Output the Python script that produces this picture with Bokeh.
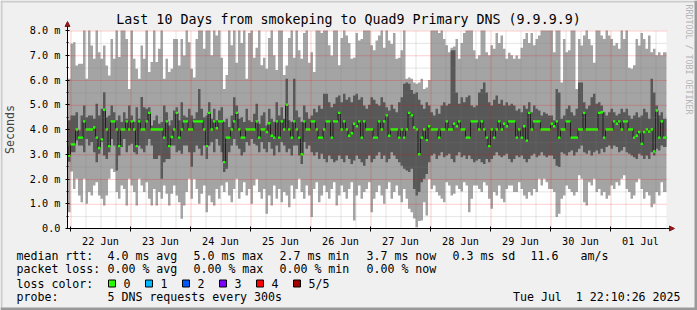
import numpy as np
from bokeh.plotting import figure
from bokeh.models import Range1d, FixedTicker, Arrow, NormalHead, ColumnDataSource
from bokeh.core.properties import value
from bokeh.embed import file_html
from bokeh.resources import INLINE

# ---------------- data (hourly bins, hours since 22 Jun 00:00) ----------------
FIRST_HOUR = -2
rtt_max = [
    6.05, 6.05, 7.46, 7.53, 6.59, 6.66, 6.66, 8.3, 6.05, 8.4, 7.39, 6.86, 8.4, 7.12, 6.86, 7.39, 6.59, 6.18, 7.66, 6.86,
    8.4, 6.93, 8.1, 8.0, 7.66, 5.64, 8.4, 6.86, 6.45, 6.05, 7.39, 6.86, 8.4, 6.32, 6.73, 8.0, 6.73, 7.26, 8.4, 6.05,
    6.86, 6.32, 6.45, 7.66, 7.66, 6.59, 7.66, 6.99, 8.4, 7.53,
    6.45, 6.1, 7.66, 8.4, 8.4, 7.26, 8.1, 8.4, 7.0, 8.4, 7.8, 8.4, 6.9, 5.64, 6.2, 8.4, 7.4, 8.4, 6.7, 8.4,
    7.5, 8.4, 6.05, 7.9, 8.4, 6.9, 7.3, 8.4, 6.6, 6.9, 6.45, 7.7, 8.4, 7.0, 6.4, 8.0, 8.4, 6.2, 6.59, 7.7,
    8.4, 6.9, 8.4, 7.2, 6.86, 7.9, 8.4, 6.7,
    7.12, 6.32, 8.4, 8.1, 7.9, 8.4, 8.4, 7.4, 6.99, 8.4, 8.4, 6.6, 7.7, 8.0, 7.8, 7.5, 6.86, 6.9, 7.9, 7.6,
    7.66, 8.0, 8.4, 8.4, 7.4, 7.2, 7.6, 7.8, 8.0, 7.3, 8.1, 7.6, 7.45, 7.9, 6.86, 6.9, 7.2, 8.3, 6.05, 6.1,
    6.05, 5.9, 5.85, 5.9, 6.05, 5.64, 5.7, 6.0,
    8.4, 8.1, 8.4, 7.9, 8.3, 7.66, 7.4, 7.12, 7.3, 7.35, 7.66, 6.86, 7.5, 7.9, 8.1, 8.4, 8.4, 7.2, 6.86, 7.0,
    8.4, 8.4, 7.12, 7.0, 7.4, 7.26, 7.9, 7.5, 7.8, 7.26, 6.86, 7.1, 7.0, 6.86, 6.99, 6.86, 7.3, 7.66, 7.9, 7.5,
    7.9, 7.4, 7.66, 7.8, 8.4, 8.4, 8.1, 8.4,
    8.0, 7.12, 8.2, 8.0, 5.9, 7.66, 7.12, 7.2, 8.4, 8.1, 5.64, 7.66, 7.39, 7.8, 8.0, 7.66, 7.4, 6.7, 8.4, 8.1,
    7.8, 7.66, 8.4, 7.8, 7.66, 7.39, 7.5, 7.26, 8.0, 7.66, 8.4, 6.5, 6.45, 6.6, 7.66, 7.39, 7.9, 7.66, 7.26, 7.8,
    7.12, 7.26, 7.0, 7.12, 7.0, 7.12,
]
rtt_p4 = [
    4.37, 4.37, 4.57, 4.57, 4.70, 3.96, 4.57, 4.97, 4.50, 4.57, 4.57, 4.43, 5.04, 4.57, 4.84, 5.51, 4.50, 4.57, 4.97, 4.70,
    4.37, 4.57, 4.30, 4.70, 4.43, 4.97, 4.57, 4.30, 4.90, 4.43, 5.31, 4.90, 4.84, 4.90, 4.16, 4.37, 4.57, 4.23, 4.30, 4.97,
    4.70, 4.16, 4.37, 4.77, 4.90, 4.37, 5.10, 4.57, 4.50, 4.84,
    4.57, 4.43, 4.7, 5.64, 4.84, 4.5, 4.57, 5.1, 4.43, 4.84, 4.37, 4.77, 4.9, 4.3, 4.43, 4.1, 4.57, 5.3, 4.97, 4.43,
    4.5, 4.3, 4.84, 4.37, 4.3, 4.64, 5.04, 4.23, 4.57, 4.7, 4.16, 4.84, 4.43, 4.3, 5.1, 4.57, 4.9, 4.43, 6.05, 4.37,
    4.3, 6.05, 4.77, 4.5, 4.3, 4.97, 4.7, 4.43,
    4.57, 4.84, 4.7, 4.97, 4.84, 5.44, 5.44, 5.1, 4.9, 5.04, 5.3, 5.37, 5.1, 5.44, 5.2, 5.3, 5.1, 5.37, 5.44, 5.2,
    5.3, 4.97, 4.84, 5.0, 5.3, 5.2, 5.04, 4.97, 5.3, 5.1, 4.9, 4.77, 5.0, 4.84, 4.7, 5.1, 5.3, 5.85, 5.9, 5.85,
    5.6, 5.44, 5.51, 5.2, 5.0, 4.84, 5.1, 4.97,
    4.7, 4.57, 4.84, 4.64, 4.97, 5.1, 4.97, 5.04, 7.2, 7.2, 5.5, 5.04, 5.3, 5.1, 5.3, 5.37, 4.97, 4.9, 4.97, 5.5,
    5.64, 5.9, 5.5, 5.1, 4.97, 5.2, 5.37, 5.04, 5.2, 4.97, 5.1, 4.97, 5.04, 4.97, 4.77, 4.84, 4.7, 4.97, 4.84, 5.1,
    4.7, 4.97, 4.84, 4.77, 4.57, 4.7, 4.64, 4.57,
    4.57, 4.37, 5.64, 5.5, 4.43, 4.57, 4.84, 4.97, 4.7, 4.57, 4.84, 5.9, 5.9, 5.1, 4.84, 4.97, 5.3, 5.44, 5.04, 5.1,
    4.97, 4.7, 4.57, 4.7, 4.84, 4.7, 4.57, 4.64, 4.84, 4.7, 4.84, 4.57, 4.43, 4.57, 4.7, 4.5, 4.57, 4.84, 4.7, 4.43,
    6.05, 5.5, 4.97, 4.57, 4.7, 4.43,
]
rtt_median = [
    3.33, 2.95, 3.4, 3.4, 4.0, 3.67, 3.67, 4.33, 4.0, 4.0, 4.0, 4.08, 3.67, 3.25, 3.6, 4.8, 4.0, 3.33, 4.33, 4.33,
    4.0, 3.33, 4.0, 4.0, 4.33, 4.0, 4.33, 4.0, 3.33, 4.33, 4.0, 4.0, 4.33, 4.67, 4.0, 4.0, 4.0, 4.0, 4.0, 3.67,
    4.33, 3.33, 3.7, 4.0, 4.67, 3.67, 4.0, 4.33, 4.33, 4.0,
    4.0, 4.33, 4.33, 4.33, 4.33, 4.0, 3.33, 4.67, 4.0, 4.33, 4.05, 4.33, 4.33, 2.68, 3.67, 3.67, 4.0, 4.33, 4.67, 4.0,
    3.67, 3.67, 4.0, 4.0, 4.0, 4.0, 4.33, 3.67, 4.0, 4.0, 3.9, 4.25, 3.75, 3.67, 4.33, 3.67, 4.33, 4.0, 5.0, 4.0,
    3.67, 4.33, 4.0, 3.67, 3.0, 4.33, 4.0, 4.0,
    4.33, 4.33, 4.0, 3.67, 3.67, 4.0, 4.33, 4.33, 3.67, 4.33, 4.33, 4.67, 4.0, 4.33, 4.0, 3.75, 3.85, 4.23, 4.13, 4.33,
    3.67, 4.33, 4.0, 4.0, 4.0, 3.67, 3.67, 4.33, 4.0, 4.33, 4.57, 3.75, 4.0, 4.0, 4.0, 3.67, 4.0, 3.67, 4.0, 4.67,
    4.57, 4.08, 4.0, 3.0, 3.67, 4.0, 3.57, 4.13,
    4.0, 4.0, 4.0, 3.67, 4.0, 4.0, 4.33, 4.0, 4.0, 4.23, 4.13, 4.33, 4.0, 4.0, 3.67, 3.67, 4.33, 4.33, 4.33, 4.0,
    4.33, 4.0, 3.67, 3.33, 4.0, 3.67, 4.0, 4.33, 4.0, 4.23, 4.13, 4.33, 4.33, 4.33, 3.67, 4.0, 3.67, 4.13, 3.55, 4.67,
    4.0, 4.33, 4.33, 4.33, 4.0, 4.0, 4.0, 4.0,
    4.23, 4.13, 4.33, 3.67, 4.0, 4.0, 4.33, 4.33, 3.67, 3.67, 3.67, 4.0, 4.0, 4.67, 4.0, 4.0, 4.0, 4.0, 4.0, 4.67,
    4.7, 3.67, 4.0, 4.0, 4.0, 4.33, 4.23, 4.33, 4.0, 4.33, 4.33, 4.0, 4.0, 3.67, 3.75, 3.9, 3.42, 3.9, 4.0, 3.92,
    4.0, 3.11, 4.77, 3.67, 4.33, 3.67,
]
rtt_p2 = [
    2.61, 2.70, 3.08, 3.08, 3.56, 3.35, 3.35, 3.08, 3.62, 3.35, 3.49, 3.08, 2.68, 3.02, 3.49, 2.95, 2.81, 3.08, 3.62, 3.35,
    2.34, 2.95, 3.29, 3.62, 3.08, 3.35, 3.42, 3.08, 3.00, 3.35, 3.22, 3.08, 3.35, 3.62, 3.35, 2.81, 2.81, 2.95, 2.01, 2.68,
    2.81, 2.81, 3.35, 3.35, 3.08, 3.15, 3.02, 3.35, 3.35, 3.08,
    2.5, 3.08, 3.35, 3.22, 2.95, 3.35, 2.81, 3.35, 3.49, 3.08, 3.62, 3.35, 3.08, 2.28, 2.41, 3.08, 3.35, 3.62, 3.35, 3.22,
    2.95, 3.08, 3.49, 3.35, 3.62, 3.42, 3.35, 3.08, 3.49, 3.22, 3.08, 3.49, 3.22, 2.95, 3.35, 3.08, 3.49, 3.35, 3.08, 3.22,
    2.95, 3.35, 3.35, 2.95, 2.61, 3.49, 3.22, 3.35,
    3.08, 2.95, 3.08, 2.81, 3.02, 2.81, 2.68, 2.95, 2.81, 2.68, 2.75, 2.95, 2.81, 2.68, 2.95, 2.81, 2.61, 2.75, 2.95, 2.81,
    2.68, 2.54, 2.81, 2.95, 2.68, 2.81, 2.95, 3.08, 2.81, 2.95, 2.68, 2.81, 3.08, 2.95, 2.81, 2.68, 2.54, 2.41, 2.34, 2.28,
    2.41, 1.6, 1.33, 1.47, 1.87, 2.01, 2.2, 2.68,
    2.95, 3.02, 2.81, 2.95, 3.08, 2.88, 2.95, 3.02, 2.81, 2.68, 2.95, 3.08, 2.88, 2.95, 2.81, 2.95, 2.81, 2.68, 2.75, 2.81,
    2.68, 2.61, 2.81, 2.68, 2.81, 2.95, 3.08, 2.95, 2.88, 2.95, 3.02, 2.81, 2.68, 2.81, 2.95, 2.88, 2.95, 2.81, 2.68, 2.81,
    2.95, 3.02, 2.88, 2.95, 3.08, 2.95, 2.88, 2.95,
    2.95, 2.81, 2.54, 2.48, 3.08, 3.02, 2.95, 3.08, 3.15, 2.95, 3.08, 3.22, 3.35, 3.08, 3.02, 3.15, 2.95, 3.08, 3.15, 3.02,
    3.22, 3.08, 3.29, 3.35, 3.22, 3.35, 3.29, 3.08, 3.15, 3.29, 3.08, 3.02, 2.95, 2.88, 2.81, 3.02, 2.95, 2.81, 2.95, 2.81,
    3.08, 2.95, 3.22, 3.15, 3.35, 3.29,
]
rtt_min = [
    1.33, 0.66, 2.30, 1.60, 2.01, 1.33, 1.06, 2.01, 1.00, 1.47, 1.33, 1.74, 1.87, 1.33, 1.20, 0.93, 1.33, 2.01, 2.41, 2.28,
    1.47, 1.20, 1.74, 1.60, 0.93, 2.01, 1.74, 1.47, 0.93, 2.01, 1.74, 1.47, 1.87, 1.20, 0.93, 1.60, 0.93, 1.47, 1.20, 1.74,
    1.40, 0.93, 1.40, 1.74, 1.33, 1.06, 0.39, 0.93, 1.47, 2.01,
    1.2, 2.0, 1.6, 1.0, 1.4, 1.74, 0.66, 1.33, 1.06, 0.93, 1.6, 1.2, 1.74, 1.47, 1.87, 1.33, 1.06, 1.6, 2.01, 1.2,
    1.47, 1.87, 1.33, 1.6, 1.0, 1.74, 2.0, 1.47, 1.2, 1.6, 0.6, 1.33, 0.93, 1.74, 1.2, 1.6, 1.06, 1.47, 1.33, 0.86,
    1.74, 1.2, 1.6, 2.01, 1.47, 1.2, 1.74, 1.33,
    0.46, 1.6, 1.87, 1.06, 1.33, 1.74, 1.47, 1.2, 1.6, 1.87, 0.93, 1.33, 1.74, 1.47, 1.2, 1.6, 1.87, 0.32, 1.33, 1.74,
    1.2, 1.47, 1.6, 1.87, 0.66, 1.2, 1.47, 1.74, 1.33, 1.0, 1.6, 1.87, 1.2, 1.47, 1.74, 1.33, 1.06, 1.6, 1.2, 0.8,
    0.66, 0.4, 0.05, 0.3, 0.32, 1.06, 0.53, 2.0,
    1.6, 1.74, 1.47, 1.33, 1.2, 1.06, 1.87, 1.74, 1.33, 1.4, 1.74, 1.6, 1.5, 1.87, 1.74, 0.66, 1.2, 1.74, 1.74, 1.6,
    1.47, 1.87, 1.74, 1.2, 0.8, 1.47, 1.33, 1.74, 1.2, 1.06, 1.6, 1.74, 1.74, 1.47, 1.47, 1.87, 1.6, 1.33, 1.2, 1.47,
    1.33, 1.6, 1.47, 2.01, 1.74, 2.01, 1.87, 1.6,
    1.6, 1.47, 0.46, 0.6, 1.2, 1.33, 1.74, 1.6, 1.47, 1.33, 1.47, 2.15, 2.01, 1.06, 0.93, 1.87, 1.74, 2.01, 1.47, 1.6,
    1.33, 1.47, 1.2, 1.33, 1.74, 1.6, 1.87, 1.74, 2.01, 2.15, 1.6, 1.47, 1.2, 1.33, 1.87, 2.01, 1.6, 1.2, 1.47, 1.33,
    0.86, 1.0, 1.47, 1.33, 1.87, 1.47,
]

day_labels = ["22 Jun", "23 Jun", "24 Jun", "25 Jun", "26 Jun", "27 Jun", "28 Jun", "29 Jun", "30 Jun", "01 Jul"]
y_tick_labels = ["0.0", "1.0 m", "2.0 m", "3.0 m", "4.0 m", "5.0 m", "6.0 m", "7.0 m", "8.0 m"]
title_text = "Last 10 Days from smokeping to Quad9 Primary DNS (9.9.9.9)"
rtt_stats = ["4.0 ms avg", "5.0 ms max", "2.7 ms min", "3.7 ms now", "0.3 ms sd", "11.6", "am/s"]
loss_stats = ["0.00 % avg", "0.00 % max", "0.00 % min", "0.00 % now"]
loss_labels = ["0", "1", "2", "3", "4", "5/5"]
loss_colors = ["#26ff00", "#00b8ff", "#0059ff", "#7e00ff", "#ff0000", "#a00000"]
probe_text = "5 DNS requests every 300s"
date_text = "Tue Jul \u00a01 22:10:26 2025"

# ---------------- layout constants ----------------
W, H = 697, 310
PX_L, PX_R, PX_T, PX_B = 67, 666, 30, 228
X0, X1 = -1.2, 238.4
Y0, Y1 = 0.0, 8.0
FONT = "DejaVu Sans Mono"
LIGHT, DARK = "#a4a4a4", "#585858"
BG = "#f0f0f0"
ARROW_C = "#8b1a1a"


def dx(px):
    return X0 + (px - PX_L) * (X1 - X0) / (PX_R - PX_L)


def dy(py):
    return Y0 + (PX_B - py) * (Y1 - Y0) / (PX_B - PX_T)


HX = dx(PX_L + 0.5) - X0      # half a pixel in data units (x)
HY = dy(PX_B + 0.5) - Y0      # half a pixel in data units (y), negative

n = min(len(rtt_max), len(rtt_p4), len(rtt_median), len(rtt_p2), len(rtt_min))
edges = np.arange(FIRST_HOUR, FIRST_HOUR + n + 1, dtype=float)
edges = np.clip(edges, X0, X1)
edges[-1] = X1


def ext(a):
    a = np.asarray(a[:n], dtype=float)
    return np.append(a, a[-1])


mx, hi, med, lo, mn = ext(rtt_max), ext(rtt_p4), ext(rtt_median), ext(rtt_p2), ext(rtt_min)
mx = np.minimum(mx, Y1)
half = 1.2 * (Y1 - Y0) / (PX_B - PX_T)

src = ColumnDataSource(dict(x=edges, mx=mx, hi=hi, med=med, lo=lo, mn=mn,
                            mlo=med - half, mhi=med + half))

# the frame covers the whole canvas; the graph area is the data window X0..X1 x Y0..Y1
p = figure(width=W, height=H, x_range=Range1d(dx(0), dx(W)), y_range=Range1d(dy(H), dy(0)),
           output_backend="svg", toolbar_location=None, title=None, min_border=0,
           background_fill_color=BG, border_fill_color=BG, outline_line_color=None)
p.xgrid.visible = False
p.ygrid.visible = False

# white canvas of the graph
p.quad(left=[X0], right=[X1], bottom=[Y0], top=[Y1], fill_color="white", line_color=None)

# smoke + median
p.varea_step(x="x", y1="mn", y2="mx", step_mode="after", fill_color=LIGHT, source=src)
p.varea_step(x="x", y1="lo", y2="hi", step_mode="after", fill_color=DARK, source=src)
p.step(x="x", y="med", mode="after", line_color="#202020", line_width=1, source=src)
p.varea_step(x="x", y1="mlo", y2="mhi", step_mode="after", fill_color=loss_colors[0], source=src)

# grid (drawn over the data, like rrdtool), placed on pixel centres
midnights = list(range(0, 240, 24))
noons = [m + 12 for m in midnights]
six_h = [h for h in range(6, 240, 6) if h % 24 != 0]
y_major = list(range(1, 9))
y_minor = [i + 0.5 for i in range(8)]
GRID_C, GRID_A = "#808080", 0.4
MGRID_C, MGRID_A = "#ff0000", 0.4


def vlines(xs, color, alpha):
    xs = [x + HX for x in xs]
    p.segment(x0=xs, y0=[Y0] * len(xs), x1=xs, y1=[Y1] * len(xs),
              line_color=color, line_alpha=alpha, line_dash="1 1", line_width=1)


def hlines(ys, color, alpha):
    ys = [y + HY for y in ys]
    p.segment(x0=[X0] * len(ys), y0=ys, x1=[X1] * len(ys), y1=ys,
              line_color=color, line_alpha=alpha, line_dash="1 1", line_width=1)


vlines(six_h, GRID_C, GRID_A)
hlines(y_minor, GRID_C, GRID_A)
vlines(midnights, MGRID_C, MGRID_A)
hlines(y_major, MGRID_C, MGRID_A)

# axes, fixed at the graph's origin
xax = p.xaxis[0]
xax.fixed_location = Y0
xax.bounds = (X0, X1)
xax.ticker = FixedTicker(ticks=noons, minor_ticks=midnights)
xax.major_label_overrides = {t: lab for t, lab in zip(noons, day_labels)}
xax.major_tick_out = 0
xax.major_tick_in = 0
xax.minor_tick_out = 3
xax.minor_tick_in = 2
xax.major_label_standoff = 4

yax = p.yaxis[0]
yax.fixed_location = X0
yax.bounds = (Y0, Y1)
yax.ticker = FixedTicker(ticks=list(range(9)), minor_ticks=y_minor)
yax.major_label_overrides = {i: lab for i, lab in enumerate(y_tick_labels)}
yax.major_tick_out = 2
yax.major_tick_in = 2
yax.minor_tick_out = 1
yax.minor_tick_in = 1
yax.major_label_standoff = 5
yax.axis_label = "Seconds"
yax.axis_label_text_font = FONT
yax.axis_label_text_font_size = "11.6px"
yax.axis_label_text_font_style = "normal"
yax.axis_label_standoff = 10

for ax in (xax, yax):
    ax.major_label_text_font = FONT
    ax.major_label_text_font_size = "10.2px"
    ax.major_label_text_color = "black"
    ax.axis_line_color = "black"
    ax.major_tick_line_color = "black"
    ax.minor_tick_line_color = "black"

# arrows on the axes
p.add_layout(Arrow(end=NormalHead(size=5, fill_color=ARROW_C, line_color=ARROW_C),
                   x_start=X0, y_start=Y1, x_end=X0, y_end=dy(21), line_color="black", line_width=1))
p.add_layout(Arrow(end=NormalHead(size=5, fill_color=ARROW_C, line_color=ARROW_C),
                   x_start=X1, y_start=Y0, x_end=dx(674), y_end=Y0, line_color="black", line_width=1))

# ---------------- texts ----------------
row1, row2, row3, row4 = 255, 268.5, 283, 296
txt_x, txt_y, txt_t = [], [], []


def put(px, py, t):
    txt_x.append(dx(px))
    txt_y.append(dy(py))
    txt_t.append(t)


put(16, row1, "median rtt:")
for px_, t in zip([107, 193, 279, 366, 452, 530, 580], rtt_stats):
    put(px_, row1, t)
put(16, row2, "packet loss:")
for px_, t in zip([107, 193, 279, 366], loss_stats):
    put(px_, row2, t)
put(16, row3, "loss color:")
box_x = [108, 145, 182, 219, 256, 293]
for bx, t in zip(box_x, loss_labels):
    put(bx + 15, row3, t)
put(16, row4, "probe:")
put(107, row4, probe_text)

p.text(x=txt_x, y=txt_y, text=txt_t, text_font=value(FONT), text_font_size="11.6px",
       text_color="black", text_align="left", text_baseline="middle")
p.text(x=[dx(680)], y=[dy(row4)], text=[date_text], text_font=value(FONT), text_font_size="11.6px",
       text_color="black", text_align="right", text_baseline="middle")
p.text(x=[dx(348)], y=[dy(19)], text=[title_text], text_font=value(FONT), text_font_size="13.3px",
       text_color="black", text_align="center", text_baseline="middle")
p.text(x=[dx(688)], y=[dy(4)], text=["RRDTOOL / TOBI OETIKER"], text_font=value(FONT),
       text_font_size="8.3px", text_color="#b4b4b4", text_align="left", text_baseline="middle",
       angle=-np.pi / 2)

# loss colour swatches
p.quad(left=[dx(b) for b in box_x], right=[dx(b + 7) for b in box_x],
       top=[dy(279.5)] * len(box_x), bottom=[dy(286.5)] * len(box_x),
       fill_color=loss_colors, line_color="black", line_width=1)

# 3D frame around the image
frame_l = [dx(0), dx(0), dx(0), dx(W - 3)]
frame_r = [dx(W), dx(2), dx(W), dx(W)]
frame_t = [dy(0), dy(0), dy(H - 3), dy(0)]
frame_b = [dy(2), dy(H), dy(H), dy(H)]
p.quad(left=frame_l, right=frame_r, top=frame_t, bottom=frame_b,
       fill_color=["#cbcbcb", "#cbcbcb", "#999999", "#999999"], line_color=None)

open("out.html", "w").write(file_html(p, INLINE))
